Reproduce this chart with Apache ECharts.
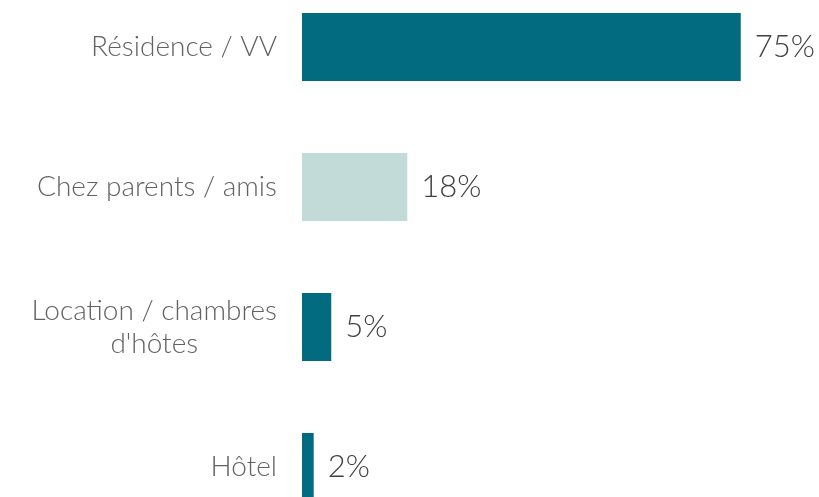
<!DOCTYPE html>
<html>
<head>
<meta charset="utf-8">
<script src="https://cdn.jsdelivr.net/npm/echarts@6/dist/echarts.min.js"></script>
<style>html,body{margin:0;padding:0;background:#fff}#c{width:819px;height:497px}</style>
</head>
<body>
<div id="c"></div>
<script>
var categories = ["Résidence / VV", "Chez parents / amis", "Location / chambres\nd'hôtes", "Hôtel"];
var values = [75, 18, 5, 2];
var barColors = ["#036b7f", "#c2dad8", "#036b7f", "#036b7f"];

var chart = echarts.init(document.getElementById('c'));
chart.setOption({
  animation: false,
  grid: { left: 302, width: 585, top: -23, height: 560, containLabel: false, outerBoundsMode: 'none' },
  xAxis: { type: 'value', min: 0, max: 100, show: false },
  yAxis: {
    type: 'category', inverse: true, data: categories,
    axisLine: { show: false }, axisTick: { show: false },
    axisLabel: {
      margin: 25, fontFamily: 'Lato', fontWeight: 300, fontSize: 28, color: '#626262',
      formatter: function (v) {
        var lines = v.split('\n');
        return lines.map(function (l) { return '{c|' + l + '}'; }).join('\n');
      },
      rich: { c: { align: 'center', fontFamily: 'Lato', fontWeight: 300, fontSize: 28, color: '#626262', lineHeight: 33 } }
    }
  },
  series: [{
    type: 'bar', barWidth: 68,
    data: values.map(function (v, i) { return { value: v, itemStyle: { color: barColors[i] } }; }),
    label: {
      show: true, position: 'right', distance: 14,
      fontFamily: 'Lato', fontWeight: 300, fontSize: 31, color: '#404040',
      formatter: function (p) { return p.value + '%'; }
    }
  }]
});
</script>
</body>
</html>
